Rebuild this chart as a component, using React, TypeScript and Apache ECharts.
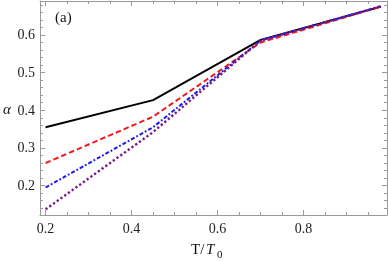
import React, { useEffect, useRef } from "react";
import * as echarts from "echarts";

const temps = [0.2, 0.45, 0.7, 0.98];
const alphaSolid = [0.355, 0.427, 0.587, 0.675];
const alphaDashed = [0.26, 0.383, 0.58, 0.675];
const alphaDotDashed = [0.195, 0.355, 0.585, 0.676];
const alphaDotted = [0.137, 0.342, 0.585, 0.676];

const xMajor = [0.2, 0.4, 0.6, 0.8];
const xMinor = [0.25, 0.3, 0.35, 0.45, 0.5, 0.55, 0.65, 0.7, 0.75, 0.85, 0.9, 0.95];
const yMajor = [0.2, 0.3, 0.4, 0.5, 0.6];
const yMinor = [0.14, 0.16, 0.18, 0.22, 0.24, 0.26, 0.28, 0.32, 0.34, 0.36, 0.38, 0.42, 0.44, 0.46, 0.48, 0.52, 0.54, 0.56, 0.58, 0.62, 0.64, 0.66, 0.68];

const X_MIN = 0.187;
const X_MAX = 0.994;
const Y_MIN = 0.122;
const Y_MAX = 0.69;

const FRAME = "#9a9a9a";
const SERIF = "'Liberation Serif', 'DejaVu Serif', serif";

function pairs(ys: number[]) {
  return temps.map((t, i) => [t, ys[i]]);
}

export default function App() {
  const ref = useRef<HTMLDivElement>(null);
  useEffect(() => {
    if (!ref.current) return;
    const chart = echarts.init(ref.current, null, { renderer: "svg" });
    const mkX = (pos: "top" | "bottom", vals: number[], len: number, labels: boolean, line: boolean) => ({
      type: "value",
      position: pos,
      min: X_MIN,
      max: X_MAX,
      splitLine: { show: false },
      axisLine: { show: line, onZero: false, lineStyle: { color: FRAME, width: 1 } },
      axisTick: { show: true, inside: true, length: len, customValues: vals, lineStyle: { color: FRAME, width: 1 } },
      axisLabel: {
        show: labels,
        customValues: vals,
        margin: 6,
        fontFamily: SERIF,
        fontSize: 14,
        color: "#222",
        formatter: (v: number) => v.toFixed(1),
      },
    });
    const mkY = (pos: "left" | "right", vals: number[], len: number, labels: boolean, line: boolean) => ({
      type: "value",
      position: pos,
      min: Y_MIN,
      max: Y_MAX,
      splitLine: { show: false },
      axisLine: { show: line, onZero: false, lineStyle: { color: FRAME, width: 1 } },
      axisTick: { show: true, inside: true, length: len, customValues: vals, lineStyle: { color: FRAME, width: 1 } },
      axisLabel: {
        show: labels,
        customValues: vals,
        margin: 5,
        fontFamily: SERIF,
        fontSize: 14,
        color: "#222",
        formatter: (v: number) => v.toFixed(1),
      },
    });
    const lineSeries = (name: string, ys: number[], color: string, type: any, width: number) => ({
      name,
      type: "line",
      data: pairs(ys),
      xAxisIndex: 0,
      yAxisIndex: 0,
      symbol: "none",
      lineStyle: { color, width, type, cap: "butt" },
      z: 3,
    });
    chart.setOption({
      animation: false,
      grid: { left: 40, right: 1, top: 1, bottom: 46, containLabel: false },
      xAxis: [
        mkX("bottom", xMajor, 5, true, true),
        mkX("bottom", xMinor, 3, false, false),
        mkX("top", xMajor, 5, false, true),
        mkX("top", xMinor, 3, false, false),
      ],
      yAxis: [
        mkY("left", yMajor, 5, true, true),
        mkY("left", yMinor, 3, false, false),
        mkY("right", yMajor, 5, false, true),
        mkY("right", yMinor, 3, false, false),
      ],
      series: [
        lineSeries("solid", alphaSolid, "#000000", "solid", 1.9),
        lineSeries("dashed", alphaDashed, "#ee1c1c", [5.5, 3], 2),
        lineSeries("dotdashed", alphaDotDashed, "#1a1aee", [4, 2, 1.8, 2], 2),
        lineSeries("dotted", alphaDotted, "#7a1a86", [2.3, 2.3], 2.4),
      ],
      graphic: [
        {
          type: "text",
          left: 55,
          top: 9,
          style: { text: "(a)", fontFamily: SERIF, fontSize: 15, fill: "#111" },
        },
        {
          type: "text",
          left: 3,
          top: 101,
          style: { text: "α", fontFamily: SERIF, fontStyle: "italic", fontSize: 15, fill: "#111" },
        },
        {
          type: "text",
          left: 191,
          top: 241,
          style: { text: "T/", fontFamily: SERIF, fontSize: 15, fill: "#111" },
        },
        {
          type: "text",
          left: 206,
          top: 241,
          style: { text: "T", fontFamily: SERIF, fontStyle: "italic", fontSize: 15, fill: "#111" },
        },
        {
          type: "text",
          left: 217,
          top: 248,
          style: { text: "0", fontFamily: SERIF, fontSize: 11, fill: "#111" },
        },
      ],
    });
    return () => chart.dispose();
  }, []);
  return (
    <div
      ref={ref}
      style={{ position: "fixed", left: 0, top: 0, width: 388, height: 261 }}
    />
  );
}
